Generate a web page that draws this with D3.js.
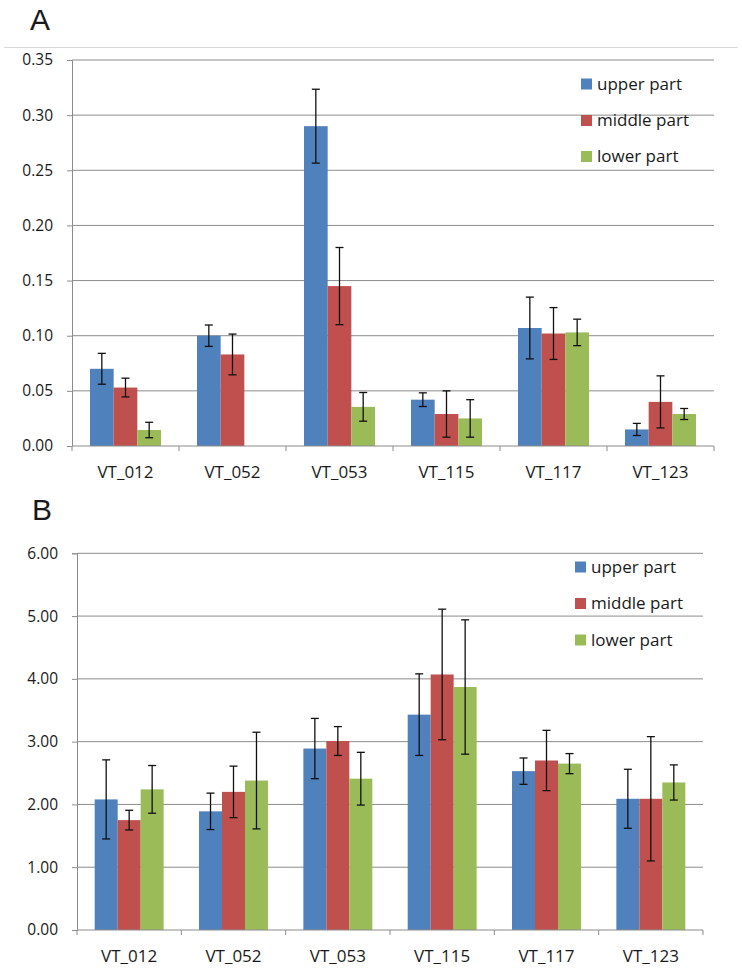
<!DOCTYPE html>
<html>
<head>
<meta charset="utf-8">
<script src="https://cdn.jsdelivr.net/npm/d3@7"></script>
<style>
  body { margin: 0; background: #fff; }
  svg { display: block; }
  text { font-family: "Open Sans", "Noto Sans", sans-serif; fill: #1a1a1a; }
</style>
</head>
<body>
<svg id="chart" width="742" height="971"></svg>
<script>
// ---------- data ----------
const categories = ["VT_012", "VT_052", "VT_053", "VT_115", "VT_117", "VT_123"];
const seriesNames = ["upper part", "middle part", "lower part"];
const seriesColors = ["#4F81BD", "#C0504D", "#9BBB59"];

// Panel A
const upperA      = [0.070, 0.100, 0.290, 0.042, 0.107, 0.015];
const upperErrA   = [0.014, 0.0097, 0.0335, 0.0062, 0.028, 0.0055];
const middleA     = [0.053, 0.083, 0.145, 0.029, 0.102, 0.040];
const middleErrA  = [0.0085, 0.0185, 0.035, 0.021, 0.0235, 0.0236];
const lowerA      = [0.0145, null, 0.0355, 0.025, 0.103, 0.029];
const lowerErrA   = [0.007, null, 0.013, 0.017, 0.012, 0.005];
const ticksA      = [0, 0.05, 0.10, 0.15, 0.20, 0.25, 0.30, 0.35];

// Panel B
const upperB      = [2.08, 1.89, 2.89, 3.43, 2.53, 2.09];
const upperErrB   = [0.63, 0.29, 0.48, 0.65, 0.21, 0.47];
const middleB     = [1.75, 2.20, 3.01, 4.07, 2.70, 2.09];
const middleErrB  = [0.157, 0.41, 0.23, 1.04, 0.48, 0.99];
const lowerB      = [2.24, 2.38, 2.41, 3.87, 2.65, 2.35];
const lowerErrB   = [0.38, 0.77, 0.42, 1.07, 0.16, 0.28];
const ticksB      = [0, 1, 2, 3, 4, 5, 6];

// ---------- drawing ----------
const svg = d3.select("#chart");
const fmt = d3.format(".2f");

function buildRows(vals, errs) {
  const rows = [];
  categories.forEach((c, i) => {
    vals.forEach((arr, s) => {
      rows.push({ cat: c, s: seriesNames[s], color: seriesColors[s], v: arr[i], e: errs[s][i] });
    });
  });
  return rows;
}

function drawPanel(opt) {
  const g = svg.append("g");
  const x0 = d3.scaleBand().domain(categories).range([opt.left, opt.right]).padding(0);
  const x1 = d3.scaleBand().domain(seriesNames).range([0, x0.bandwidth()])
    .paddingInner(0).paddingOuter(opt.outerPad);
  const y = d3.scaleLinear().domain([0, opt.max]).range([opt.bottom, opt.top]);

  // gridlines
  g.append("g").selectAll("line").data(opt.ticks.slice(1)).join("line")
    .attr("x1", opt.left).attr("x2", opt.right)
    .attr("y1", d => y(d)).attr("y2", d => y(d))
    .attr("stroke", "#8c8c8c").attr("stroke-width", 1);

  // y axis
  const yAxis = d3.axisLeft(y).tickValues(opt.ticks).tickFormat(fmt).tickSizeOuter(0).tickSize(5).tickPadding(14);
  const ya = g.append("g").attr("transform", `translate(${opt.left},0)`).call(yAxis);
  ya.select(".domain").attr("stroke", "#8c8c8c");
  ya.selectAll(".tick line").attr("stroke", "#8c8c8c");
  ya.selectAll(".tick text").attr("font-size", 15.5).attr("fill", "#1a1a1a")
    .style("font-family", '"Open Sans", sans-serif');

  // bars
  const rows = buildRows(opt.vals, opt.errs);
  g.append("g").selectAll("rect").data(rows.filter(d => d.v != null)).join("rect")
    .attr("x", d => x0(d.cat) + x1(d.s))
    .attr("width", x1.bandwidth())
    .attr("y", d => y(d.v))
    .attr("height", d => y(0) - y(d.v))
    .attr("fill", d => d.color);

  // error bars
  const eg = g.append("g").attr("stroke", "#111").attr("stroke-width", 1.3);
  const er = rows.filter(d => d.v != null && d.e != null);
  const cx = d => x0(d.cat) + x1(d.s) + x1.bandwidth() / 2;
  eg.selectAll("line.v").data(er).join("line").attr("class", "v")
    .attr("x1", cx).attr("x2", cx)
    .attr("y1", d => y(d.v + d.e)).attr("y2", d => y(d.v - d.e));
  eg.selectAll("line.t").data(er).join("line").attr("class", "t")
    .attr("x1", d => cx(d) - 4).attr("x2", d => cx(d) + 4)
    .attr("y1", d => y(d.v + d.e)).attr("y2", d => y(d.v + d.e));
  eg.selectAll("line.b").data(er).join("line").attr("class", "b")
    .attr("x1", d => cx(d) - 4).attr("x2", d => cx(d) + 4)
    .attr("y1", d => y(d.v - d.e)).attr("y2", d => y(d.v - d.e));

  // x axis line + ticks at category boundaries
  g.append("line").attr("x1", opt.left).attr("x2", opt.right)
    .attr("y1", y(0)).attr("y2", y(0)).attr("stroke", "#8c8c8c");
  const bounds = categories.map(c => x0(c)).concat([opt.right]);
  g.append("g").selectAll("line").data(bounds).join("line")
    .attr("x1", d => d).attr("x2", d => d)
    .attr("y1", y(0)).attr("y2", y(0) + 5).attr("stroke", "#8c8c8c");
  g.append("g").selectAll("text").data(categories).join("text")
    .attr("x", d => x0(d) + x0.bandwidth() / 2)
    .attr("y", opt.labelY)
    .attr("text-anchor", "middle")
    .attr("font-size", 17)
    .text(d => d);

  // legend
  const lg = g.append("g");
  seriesNames.forEach((s, i) => {
    const yy = opt.legendY[i];
    lg.append("rect").attr("x", opt.legendX).attr("y", yy - 5.5)
      .attr("width", 11).attr("height", 11).attr("fill", seriesColors[i]);
    lg.append("text").attr("x", opt.legendX + 16).attr("y", yy)
      .attr("dy", "0.35em").attr("font-size", 17).text(s);
  });

  // panel letter
  g.append("text").attr("x", opt.letterX).attr("y", opt.letterY)
    .attr("font-size", 30)
    .style("font-family", '"Liberation Sans", Arial, sans-serif')
    .text(opt.letter);
}

// top separator line
svg.append("line").attr("x1", 4).attr("x2", 738).attr("y1", 47.5).attr("y2", 47.5)
  .attr("stroke", "#d9d9d9").attr("stroke-width", 1);

drawPanel({
  letter: "A", letterX: 30, letterY: 29.5,
  left: 72, right: 714, top: 60, bottom: 446, max: 0.35,
  ticks: ticksA, outerPad: 0.76,
  vals: [upperA, middleA, lowerA], errs: [upperErrA, middleErrA, lowerErrA],
  labelY: 478, legendX: 581, legendY: [84, 120.5, 156.5]
});

drawPanel({
  letter: "B", letterX: 32, letterY: 520,
  left: 77, right: 703, top: 553.3, bottom: 930, max: 6,
  ticks: ticksB, outerPad: 0.77,
  vals: [upperB, middleB, lowerB], errs: [upperErrB, middleErrB, lowerErrB],
  labelY: 962, legendX: 575, legendY: [567, 603.5, 640]
});
</script>
</body>
</html>
